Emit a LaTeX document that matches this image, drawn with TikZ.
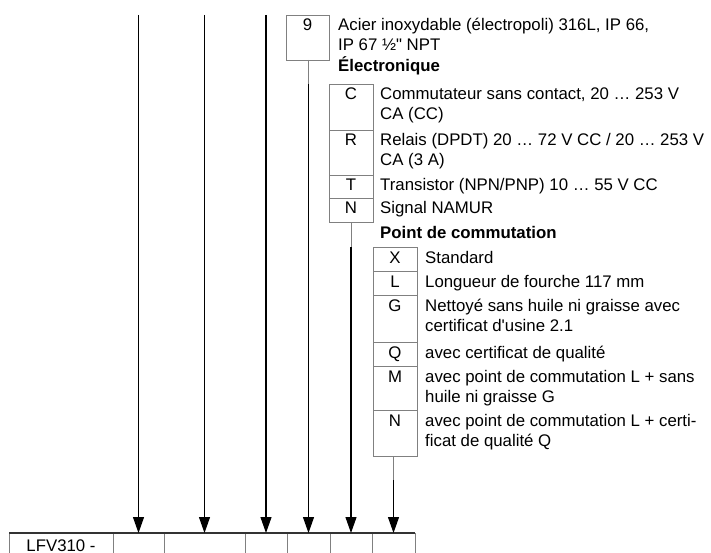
\documentclass[tikz,border=0pt]{standalone}
\usepackage{fontspec}
\setmainfont{Liberation Sans}
\usetikzlibrary{arrows.meta,positioning}

\begin{document}
\begin{tikzpicture}[x=1pt,y=-1pt,>={Triangle[length=16pt,width=11pt]},
  font=\fontsize{16.8}{20}\selectfont,
  box/.style={draw=black!50,line width=0.8pt,anchor=north west,minimum width=44pt,inner sep=0pt,outer sep=0pt},
  slot/.style={anchor=north west,minimum height=20pt,inner sep=0pt,outer sep=0pt},
  code/.style={anchor=base,inner sep=0pt},
  desc/.style={anchor=base west,inner sep=0pt,align=left},
  head/.style={anchor=base west,inner sep=0pt,font=\fontsize{16.8}{20}\selectfont\bfseries},
  feed/.style={draw=black!50,line width=0.8pt},
  pick/.style={->,line width=1.1pt}]
  \useasboundingbox (0,0) rectangle (711,553);
  \coordinate (top) at (0,15);

  % order code
  \node[slot,minimum width=104pt] (k0) at (9,533) {};
  \node[slot,minimum width=51pt] (k1) [right=0pt of k0] {};
  \node[slot,minimum width=81pt] (k2) [right=0pt of k1] {};
  \node[slot,minimum width=42pt] (k3) [right=0pt of k2] {};
  \node[slot,minimum width=43pt] (k4) [right=0pt of k3] {};
  \node[slot,minimum width=42pt] (k5) [right=0pt of k4] {};
  \node[slot,minimum width=43pt] (k6) [right=0pt of k5] {};
  \node[code] (t0) at ([yshift=-18pt]k0.north) {LFV310 -};
  \draw[feed] (k0.south west) -- (k0.north west) (k0.north east) -- (k0.south east)
              (k1.north east) -- (k1.south east) (k2.north east) -- (k2.south east)
              (k3.north east) -- (k3.south east) (k4.north east) -- (k4.south east)
              (k5.north east) -- (k5.south east) (k6.north east) -- (k6.south east);
  \draw[line width=1.1pt,black!80] (k0.north west) -- (k6.north east);

  % material
  \node[box,minimum width=43pt,minimum height=45pt] (b9) at (286,15) {};
  \node[code] (c9) at ([yshift=-16pt]b9.north) {9};
  \node[desc] (d9) at ([xshift=9pt,yshift=-36pt]b9.north east) {Acier inoxydable (électropoli) 316L, IP 66,\\IP 67 ½\textquotedbl{} NPT};

  % electronique
  \node[head] (h1) at (338,72) {Électronique};
  \node[box,minimum height=46pt] (eC) at (329,84) {};
  \node[box,minimum height=45pt] (eR) [below=0pt of eC] {};
  \node[box,minimum height=23pt] (eT) [below=0pt of eR] {};
  \node[box,minimum height=24pt] (eN) [below=0pt of eT] {};
  \node[code] (cC) at ([yshift=-16pt]eC.north) {C};
  \node[code] (cR) at ([yshift=-16pt]eR.north) {R};
  \node[code] (cT) at ([yshift=-16pt]eT.north) {T};
  \node[code] (cN) at ([yshift=-16pt]eN.north) {N};
  \node[desc] (dC) at ([xshift=7pt,yshift=-36pt]eC.north east) {Commutateur sans contact, 20 … 253 V\\CA (CC)};
  \node[desc] (dR) at ([xshift=7pt,yshift=-36pt]eR.north east) {Relais (DPDT) 20 … 72 V CC / 20 … 253 V\\CA (3 A)};
  \node[desc] (dT) at ([xshift=7pt,yshift=-16pt]eT.north east) {Transistor (NPN/PNP) 10 … 55 V CC};
  \node[desc] (dN) at ([xshift=7pt,yshift=-16pt]eN.north east) {Signal NAMUR};

  % point de commutation
  \node[head] (h2) at (380,238) {Point de commutation};
  \node[box,minimum height=24pt] (sX) at (373,247) {};
  \node[box,minimum height=24pt] (sL) [below=0pt of sX] {};
  \node[box,minimum height=47pt] (sG) [below=0pt of sL] {};
  \node[box,minimum height=24pt] (sQ) [below=0pt of sG] {};
  \node[box,minimum height=44pt] (sM) [below=0pt of sQ] {};
  \node[box,minimum height=46pt] (sN) [below=0pt of sM] {};
  \node[code] (cX) at ([yshift=-16pt]sX.north) {X};
  \node[code] (cL) at ([yshift=-16pt]sL.north) {L};
  \node[code] (cG) at ([yshift=-16pt]sG.north) {G};
  \node[code] (cQ) at ([yshift=-16pt]sQ.north) {Q};
  \node[code] (cM) at ([yshift=-16pt]sM.north) {M};
  \node[code] (cN2) at ([yshift=-16pt]sN.north) {N};
  \node[desc] (dX) at ([xshift=8pt,yshift=-16pt]sX.north east) {Standard};
  \node[desc] (dL) at ([xshift=8pt,yshift=-16pt]sL.north east) {Longueur de fourche 117 mm};
  \node[desc] (dG) at ([xshift=8pt,yshift=-36pt]sG.north east) {Nettoyé sans huile ni graisse avec\\certificat d\textquotesingle usine 2.1};
  \node[desc] (dQ) at ([xshift=8pt,yshift=-16pt]sQ.north east) {avec certificat de qualité};
  \node[desc] (dM) at ([xshift=8pt,yshift=-36pt]sM.north east) {avec point de commutation L + sans\\huile ni graisse G};
  \node[desc] (dN2) at ([xshift=8pt,yshift=-36pt]sN.north east) {avec point de commutation L + certi-\\ficat de qualité Q};
  \coordinate (j6) at (0,480);

  % arrows
  \draw[pick] (k1.north |- top) -- (k1.north);
  \draw[pick] (k2.north |- top) -- (k2.north);
  \draw[pick] (k3.north |- top) -- (k3.north);
  \draw[feed] (k4.north |- b9.south) -- (k4.north |- eC.north);
  \draw[pick] (k4.north |- eC.north) -- (k4.north);
  \draw[feed] (k5.north |- eN.south) -- (k5.north |- sX.north);
  \draw[pick] (k5.north |- sX.north) -- (k5.north);
  \draw[feed] (k6.north |- sN.south) -- (k6.north |- j6);
  \draw[pick] (k6.north |- j6) -- (k6.north);
\end{tikzpicture}
\end{document}
